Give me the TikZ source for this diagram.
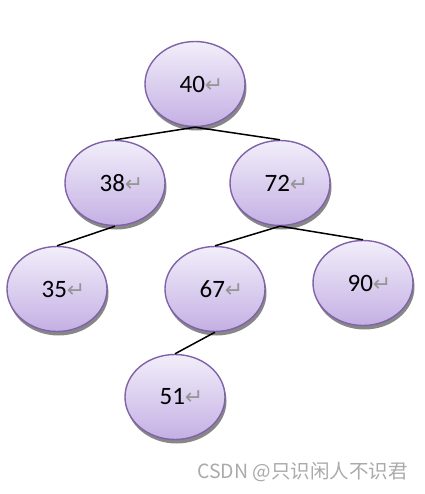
\documentclass[tikz,border=0pt]{standalone}
\usepackage{xcolor}
\usepackage{fontspec}
\setmainfont{Carlito}
\newfontfamily\symfont{DejaVu Sans}
\newfontfamily\cjk{Noto Sans CJK SC}
\usepackage{tikz}
\usetikzlibrary{shapes.geometric, shadows}
\definecolor{myborder}{RGB}{128,98,168}
\definecolor{mytop}{RGB}{242,238,250}
\definecolor{mybottom}{RGB}{196,176,228}
\definecolor{myshadow}{RGB}{135,135,135}
\definecolor{mygray}{RGB}{150,150,150}
\definecolor{mymark}{RGB}{170,170,170}
\definecolor{mydark}{RGB}{0,0,0}
\tikzset{
  keynode/.style={ellipse, draw=myborder, top color=mytop, bottom color=mybottom,
    minimum width=100pt, minimum height=85pt, inner sep=0pt,
    font=\fontsize{25}{28}\selectfont, line width=1.4pt,
    execute at begin node=\hspace*{13pt},
    drop shadow={shadow xshift=1.5pt, shadow yshift=-4pt, fill=myshadow, opacity=1}},
  link/.style={line width=1.5pt, color=mydark},
  watermark/.style={font=\cjk\fontsize{19.5}{22}\selectfont, text=mymark, inner sep=0pt}
}
\newcommand{\retmark}{{\symfont\fontsize{22}{22}\selectfont\color{mygray}↵}}

\begin{document}
\begin{tikzpicture}[x=1pt, y=-1pt]
  \useasboundingbox (0,0) rectangle (424,494);

  \node[keynode] (k40) at (195,84)  {40\retmark};
  \node[keynode] (k38) at (115,183) {38\retmark};
  \node[keynode] (k72) at (280,183) {72\retmark};
  \node[keynode] (k35) at (57,289)  {35\retmark};
  \node[keynode] (k67) at (215,289) {67\retmark};
  \node[keynode] (k90) at (363,283) {90\retmark};
  \node[keynode] (k51) at (175,397) {51\retmark};

  \draw[link] (k40.south) -- (k38.north);
  \draw[link] (k40.south) -- (k72.north);
  \draw[link] (k38.south) -- (k35.north);
  \draw[link] (k72.south) -- (k67.north);
  \draw[link] (k72.south) -- (k90.north);
  \draw[link] (k67.south) -- (k51.north);

  \node[watermark, anchor=east] (mark) at (408,472) {CSDN @只识闲人不识君};
\end{tikzpicture}
\end{document}
